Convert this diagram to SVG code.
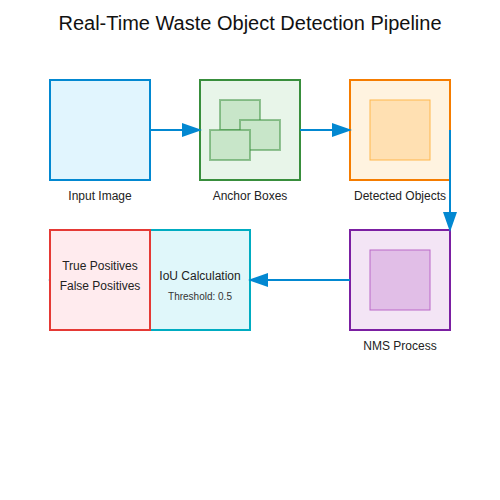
<svg xmlns="http://www.w3.org/2000/svg" width="500" height="500" viewBox="0 0 500 500">
<defs>
<marker id="arrow" markerWidth="10" markerHeight="7" refX="9" refY="3.5" orient="auto">
<polygon points="0 0, 10 3.5, 0 7" fill="#0288d1"/>
</marker>
<style>
text{font-family:"Liberation Sans",Arial,sans-serif;fill:#222;text-anchor:middle}
.title{font-size:20px;fill:#111}
.label{font-size:12px}
.small{font-size:10px;fill:#333}
.box{stroke-width:2}
.anchor{fill:#c8e6c9;stroke:#388e3c;stroke-opacity:0.5;stroke-width:2}
.conn{stroke:#0288d1;stroke-width:2;fill:none;marker-end:url(#arrow)}
</style>
</defs>
<rect width="500" height="500" fill="#ffffff"/>
<text class="title" x="250" y="30">Real-Time Waste Object Detection Pipeline</text>
<g id="input-image">
<rect class="box" x="50" y="80" width="100" height="100" fill="#e1f5fe" stroke="#0288d1"/>
<text class="label" x="100" y="200">Input Image</text>
</g>
<g id="anchor-boxes">
<rect class="box" x="200" y="80" width="100" height="100" fill="#e8f5e9" stroke="#388e3c"/>
<rect class="anchor" x="220" y="100" width="40" height="30"/>
<rect class="anchor" x="240" y="120" width="40" height="30"/>
<rect class="anchor" x="210" y="130" width="40" height="30"/>
<text class="label" x="250" y="200">Anchor Boxes</text>
</g>
<g id="detected-objects">
<rect class="box" x="350" y="80" width="100" height="100" fill="#fff3e0" stroke="#f57c00"/>
<rect x="370" y="100" width="60" height="60" fill="#ffe0b2" stroke="#ffb74d"/>
<text class="label" x="400" y="200">Detected Objects</text>
</g>
<g id="nms-process">
<rect class="box" x="350" y="230" width="100" height="100" fill="#f3e5f5" stroke="#7b1fa2"/>
<rect x="370" y="250" width="60" height="60" fill="#e1bee7" stroke="#ba68c8"/>
<text class="label" x="400" y="350">NMS Process</text>
</g>
<g id="iou-calculation">
<rect class="box" x="150" y="230" width="100" height="100" fill="#e0f7fa" stroke="#00acc1"/>
<text class="label" x="200" y="280">IoU Calculation</text>
<text class="small" x="200" y="300">Threshold: 0.5</text>
</g>
<g id="connectors">
<line class="conn" x1="150" y1="130" x2="200" y2="130"/>
<line class="conn" x1="300" y1="130" x2="350" y2="130"/>
<polyline class="conn" points="450,130 450,230"/>
<line class="conn" x1="350" y1="280" x2="250" y2="280"/>
<line class="conn" x1="150" y1="280" x2="50" y2="280"/>
</g>
<g id="true-false-positives">
<rect class="box" x="50" y="230" width="100" height="100" fill="#ffebee" stroke="#e53935"/>
<text class="label" x="100" y="270">True Positives</text>
<text class="label" x="100" y="290">False Positives</text>
</g>
</svg>
